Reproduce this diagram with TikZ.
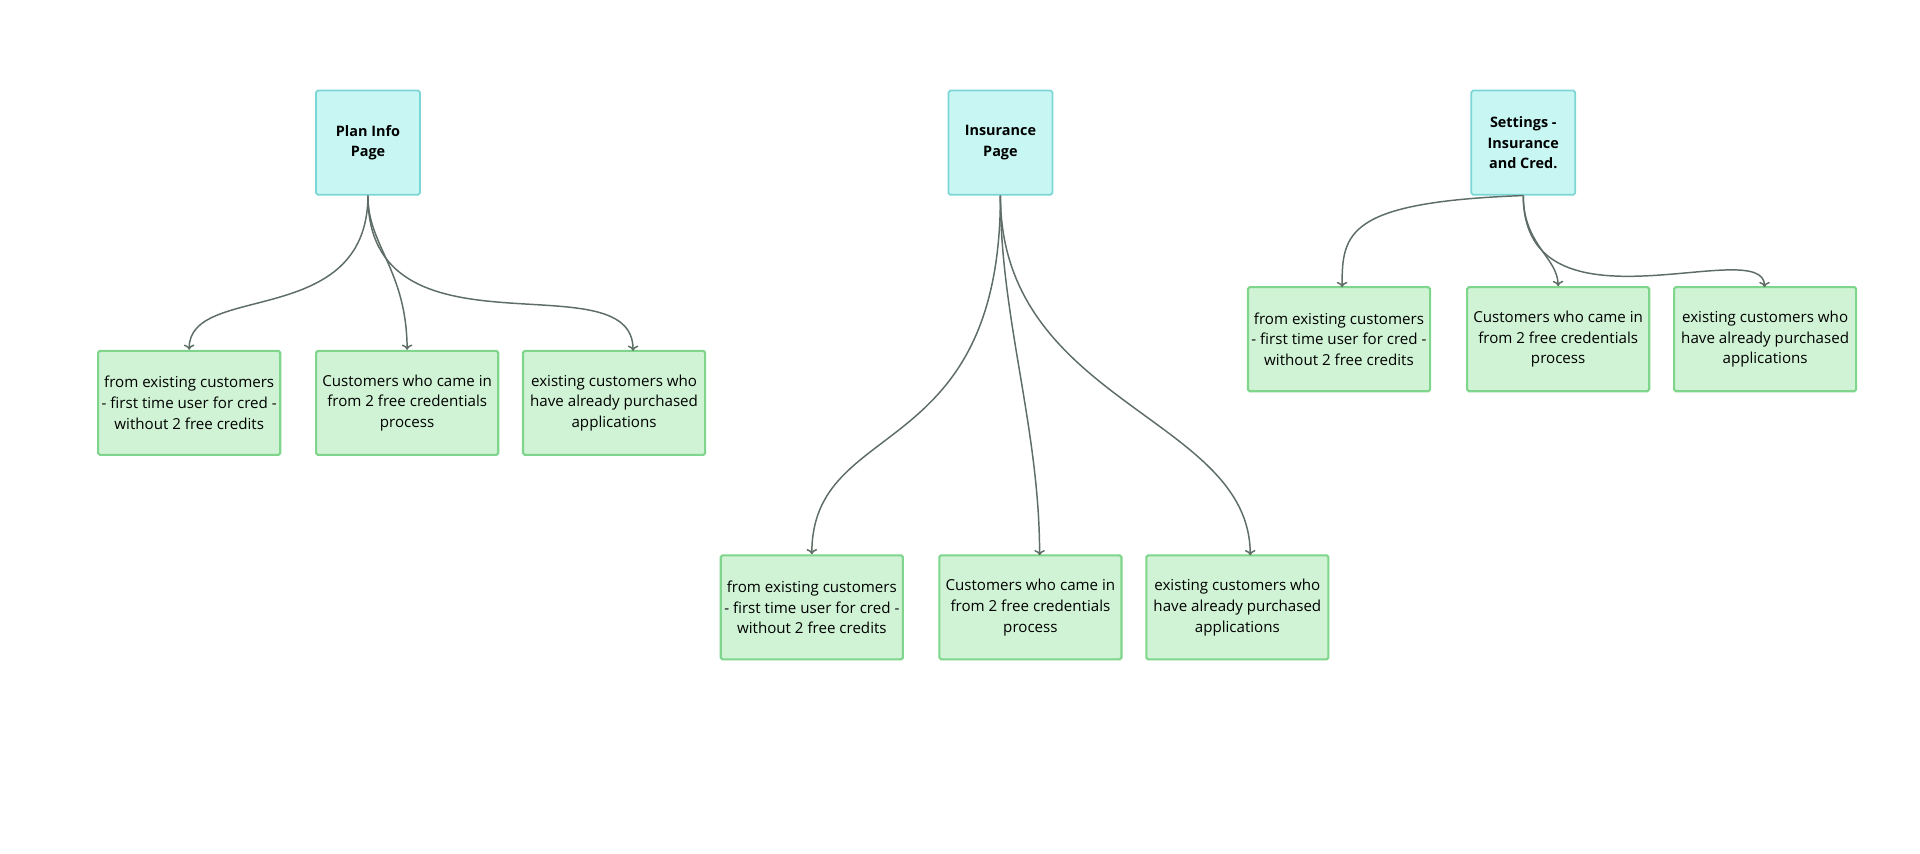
\documentclass[tikz,border=0pt]{standalone}
\usepackage{fontspec}
\setmainfont{Open Sans}
\usetikzlibrary{arrows.meta}
\definecolor{pagefill}{HTML}{C8F7F3}
\definecolor{pageline}{HTML}{7CD6D6}
\definecolor{grpfill}{HTML}{CFF3D4}
\definecolor{grpline}{HTML}{7ED58B}
\definecolor{wire}{HTML}{5E6E66}
\tikzset{
	page/.style={draw=pageline,fill=pagefill,line width=.5pt,rounded corners=.5pt,inner sep=0pt,minimum width=1.04cm,minimum height=1.04cm,align=center,font=\fontsize{4.1}{5.9}\selectfont\bfseries},
	grp/.style={draw=grpline,fill=grpfill,line width=.6pt,rounded corners=.5pt,inner sep=0pt,minimum width=1.82cm,minimum height=1.04cm,align=center,font=\fontsize{4.3}{5.9}\selectfont},
	link/.style={draw=wire,line width=.42pt,-{To[length=1.5pt,width=3pt]}}
}
\begin{document}
\begin{tikzpicture}[x=.012245cm,y=-.012245cm]
	\useasboundingbox (0,0) rectangle (1568,697);
	% top pages
	\node[page] (plan) at (300.5,116.5) {Plan Info\\Page};
	\node[page] (ins) at (817,116.5) {Insurance\\Page};
	\node[page] (set) at (1244,116.5) {Settings -\\Insurance\\and Cred.};

	% plan info children
	\node[grp] (planA) at (154.5,329) {from existing customers\\- first time user for cred -\\without 2 free credits};
	\node[grp] (planB) at (332.5,329) {Customers who came in\\from 2 free credentials\\process};
	\node[grp] (planC) at (501.5,329) {existing customers who\\have already purchased\\applications};

	% insurance children
	\node[grp] (insA) at (663,496) {from existing customers\\- first time user for cred -\\without 2 free credits};
	\node[grp] (insB) at (841.5,496) {Customers who came in\\from 2 free credentials\\process};
	\node[grp] (insC) at (1010.5,496) {existing customers who\\have already purchased\\applications};

	% settings children
	\node[grp] (setA) at (1093.5,277) {from existing customers\\- first time user for cred -\\without 2 free credits};
	\node[grp] (setB) at (1272.5,277) {Customers who came in\\from 2 free credentials\\process};
	\node[grp] (setC) at (1441.5,277) {existing customers who\\have already purchased\\applications};

	% arrow ends
	\coordinate (planCin) at (517,286.5);
	\coordinate (insBin) at (849,453.5);
	\coordinate (insCin) at (1021,453.5);
	\coordinate (setAin) at (1096,234.5);
	\coordinate (setCin) at (1441,234.5);

	\draw[link] (plan.south) .. controls (300,270) and (154,230) .. (planA.north);
	\draw[link] (plan.south) .. controls (300,200) and (332,220) .. (planB.north);
	\draw[link] (plan.south) .. controls (300,300) and (517,210) .. (planCin);
	\draw[link] (ins.south) .. controls (817,380) and (663,340) .. (insA.north);
	\draw[link] (ins.south) .. controls (817,260) and (849,350) .. (insBin);
	\draw[link] (ins.south) .. controls (817,330) and (1021,340) .. (insCin);
	\draw[link] (set.south) .. controls (1100,165) and (1096,190) .. (setAin);
	\draw[link] (set.south) .. controls (1244,200) and (1272,210) .. (setB.north);
	\draw[link] (set.south) .. controls (1244,280) and (1441,190) .. (setCin);
\end{tikzpicture}
\end{document}
